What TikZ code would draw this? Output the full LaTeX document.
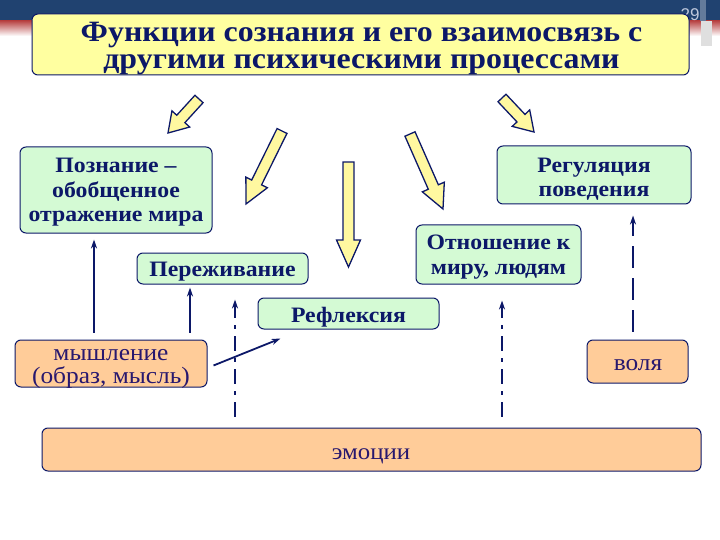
\documentclass[tikz,border=0pt]{standalone}
\usepackage{fontspec}
\setmainfont{Liberation Serif}[FakeStretch=1.08]
\newfontfamily\pnumfont{Liberation Sans}
\usetikzlibrary{arrows.meta,calc}
\definecolor{navy}{RGB}{12,24,104}
\definecolor{band}{RGB}{32,66,112}
\definecolor{gboxc}{RGB}{212,250,212}
\definecolor{peach}{RGB}{255,204,153}
\definecolor{titley}{RGB}{255,255,160}
\definecolor{arry}{RGB}{255,248,160}
\definecolor{ptext}{RGB}{40,24,110}
\newcommand{\blockarr}[5]{%
  \pgfmathsetmacro{\baang}{atan2(#2-#4,#3-#1)}%
  \pgfmathsetmacro{\balen}{veclen(#3-#1,#4-#2)}%
  \begin{scope}[shift={(#1,#2)},rotate=\baang]
    \draw[barrow] (0,-5.5) -- ({\balen-#5},-5.5) -- ({\balen-#5},-12) -- (\balen,0)
      -- ({\balen-#5},12) -- ({\balen-#5},5.5) -- (0,5.5) -- cycle;
  \end{scope}}
\begin{document}
\begin{tikzpicture}[x=1pt,y=-1pt,
  barrow/.style={draw=navy,line width=1.3pt,fill=arry,line join=miter},
  boxbase/.style={draw=navy,line width=1pt,rounded corners=6pt,inner sep=0pt},
  titlebox/.style={boxbase,fill=titley},
  gbox/.style={boxbase,fill=gboxc},
  pbox/.style={boxbase,fill=peach},
  titletext/.style={inner sep=0pt,align=center,text=navy,font=\fontsize{29.5}{27}\selectfont\bfseries},
  gtext/.style={inner sep=0pt,align=center,text=navy,font=\fontsize{22}{24.5}\selectfont\bfseries},
  ptxt/.style={inner sep=0pt,align=center,text=ptext,font=\fontsize{23.5}{23}\selectfont},
  conn/.style={draw=navy,line width=1.8pt,-{Stealth[length=9pt,width=6pt]}},
  dconn/.style={conn,dash pattern=on 15pt off 7pt on 4pt off 7pt},
  lconn/.style={conn,dash pattern=on 22pt off 10pt}]
\useasboundingbox (0,0) rectangle (720,540);
% background banner
\fill[band] (0,0) rectangle (720,21);
\shade[top color={rgb,255:red,185;green,70;blue,70},bottom color=white] (0,21) rectangle (720,36);
\fill[band!70!white] (700,0) rectangle (706,21);
\fill[gray!25] (701,21) rectangle (712,46);
\node[text={rgb,255:red,190;green,200;blue,220},font=\fontsize{17}{17}\selectfont\pnumfont] (pnum) at (690,15) {29};
% title
\node[titlebox,minimum width=657pt,minimum height=61pt] (title) at (360.5,44.5) {};
\node[titletext] (titlet) at (361.5,48.5) {Функции сознания и его взаимосвязь с\\другими психическими процессами};
% block arrows
\blockarr{199}{99}{168}{133}{19}
\blockarr{282}{131}{246}{204}{24}
\blockarr{348.5}{162}{348.5}{267}{27}
\blockarr{410}{134}{443}{209}{24}
\blockarr{502}{98}{534}{132}{19}
% boxes
\node[gbox,minimum width=192pt,minimum height=86pt] (pozn) at (116,190) {};
\node[gtext] (pozn-t) at (116,192.6) {Познание –\\обобщенное\\отражение мира};
\node[gbox,minimum width=194pt,minimum height=58pt] (reg) at (594,175) {};
\node[gtext] (reg-t) at (594,179.2) {Регуляция\\поведения};
\node[gbox,minimum width=171pt,minimum height=31pt] (perezh) at (222.5,268.5) {};
\node[gtext] (perezh-t) at (222.5,272.1) {Переживание};
\node[gbox,minimum width=181pt,minimum height=31pt] (refl) at (348.5,313.5) {};
\node[gtext] (refl-t) at (348.5,316.8) {Рефлексия};
\node[gbox,minimum width=165pt,minimum height=59pt] (otn) at (498.5,254.5) {};
\node[gtext] (otn-t) at (498.5,257.2) {Отношение к\\миру, людям};
\node[pbox,minimum width=192pt,minimum height=47pt] (mysl) at (111,363.5) {};
\node[ptxt] (mysl-t) at (111,368.5) {мышление\\(образ, мысль)};
\node[pbox,minimum width=101pt,minimum height=43pt] (volya) at (637.5,361.5) {};
\node[ptxt] (volya-t) at (638,365.5) {воля};
\node[pbox,minimum width=659pt,minimum height=43pt] (emo) at (371.5,449.5) {};
\node[ptxt,font=\fontsize{23}{23}\selectfont] (emo-t) at (371,456.5) {эмоции};
% connectors
\draw[conn,shorten <=7pt,shorten >=6pt] ([xshift=-17pt]mysl.north) -- ([xshift=-17pt]mysl.north |- pozn.south);
\draw[conn,shorten <=7pt,shorten >=3pt] ([xshift=79pt]mysl.north) -- ([xshift=79pt]mysl.north |- perezh.south);
\draw[conn] ([xshift=6pt,yshift=-2pt]mysl.east) -- ([xshift=23pt,yshift=-9pt]refl.south west);
\draw[dconn,shorten <=11pt,shorten >=15pt] ([xshift=12.5pt]perezh.south |- emo.north) -- ([xshift=12.5pt]perezh.south);
\draw[dconn,shorten <=11pt,shorten >=16pt] ([xshift=3.5pt]otn.south |- emo.north) -- ([xshift=3.5pt]otn.south);
\draw[lconn,shorten <=8pt,shorten >=11pt] ([xshift=-4.5pt]volya.north) -- ([xshift=-4.5pt]volya.north |- reg.south);
\end{tikzpicture}
\end{document}
